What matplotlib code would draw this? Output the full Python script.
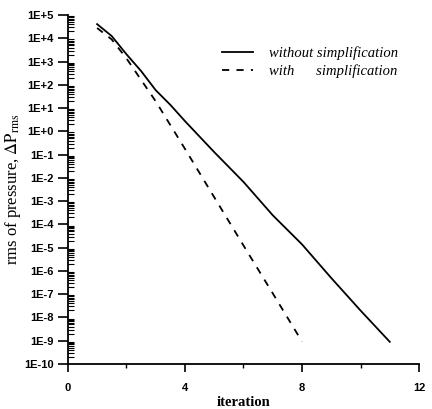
import matplotlib
matplotlib.use("Agg")
import matplotlib.pyplot as plt
import matplotlib.ticker as mticker
import numpy as np

# значения
iter_without = [1, 1.5, 2, 2.5, 3, 3.5, 4, 5, 6, 7, 8, 9, 10, 11]
rms_without = [4.1e4, 1.26e4, 2.1e3, 400, 60, 14, 2.8, 0.13, 6.8e-3, 2.5e-4,
               1.4e-5, 5e-7, 2e-8, 9e-10]

iter_with = [1, 1.5, 2, 3, 4, 5, 6, 7, 8]
rms_with = [2.8e4, 9e3, 1.4e3, 20, 0.18, 1.5e-3, 1.26e-5, 1.1e-7, 9.3e-10]

x_major = [0, 4, 8, 12]
x_minor = [2, 6, 10]
y_major = [10.0 ** k for k in range(-10, 6)]
y_labels = ["1E-10", "1E-9", "1E-8", "1E-7", "1E-6", "1E-5", "1E-4", "1E-3",
            "1E-2", "1E-1", "1E+0", "1E+1", "1E+2", "1E+3", "1E+4", "1E+5"]

plt.rcParams['mathtext.fontset'] = 'stix'

fig = plt.figure(figsize=(4.32, 4.09), dpi=100)
ax = fig.add_axes([0.157, 0.110, 0.813, 0.853])

ax.plot(iter_without, rms_without, color='black', lw=1.3, label='without simplification')
ax.plot(iter_with, rms_with, color='black', lw=1.3, linestyle=(0, (4, 4)),
        label='with      simplification')

ax.set_yscale('log')
ax.set_xlim(0, 12)
ax.set_ylim(1e-10, 1e5)

ax.set_xticks(x_major)
ax.set_xticklabels([str(v) for v in x_major])
ax.set_xticks(x_minor, minor=True)
ax.set_yticks(y_major)
ax.set_yticklabels(y_labels)
ax.yaxis.set_minor_locator(mticker.LogLocator(base=10, subs=np.arange(2, 10), numticks=100))
ax.yaxis.set_minor_formatter(mticker.NullFormatter())

for lab in ax.get_xticklabels() + ax.get_yticklabels():
    lab.set_fontfamily('Liberation Sans')
    lab.set_fontweight('bold')
    lab.set_fontsize(8)

ax.tick_params(axis='y', which='major', direction='out', length=7, width=1.2, pad=3)
ax.tick_params(axis='y', which='minor', direction='in', length=4, width=0.8)
ax.tick_params(axis='x', which='major', direction='out', length=6, width=1.2, pad=8)
ax.tick_params(axis='x', which='minor', direction='out', length=3, width=1.0)

ax.spines['top'].set_visible(False)
ax.spines['right'].set_visible(False)
ax.spines['left'].set_linewidth(1.3)
ax.spines['bottom'].set_linewidth(1.3)

ax.set_xlabel('iteration', fontfamily='Liberation Serif', fontsize=10.5, fontweight='bold', labelpad=2)
ax.set_ylabel(r'rms of pressure, $\Delta \mathrm{P}_{\mathrm{rms}}$', fontfamily='Liberation Serif',
              fontsize=12, labelpad=1)

leg = ax.legend(loc='upper right', bbox_to_anchor=(0.977, 0.949), frameon=False,
                handlelength=2.1, handletextpad=1.1, labelspacing=0.3,
                prop={'family': 'Liberation Serif', 'style': 'italic', 'size': 10.5})

fig.savefig('out.png', dpi=100)
